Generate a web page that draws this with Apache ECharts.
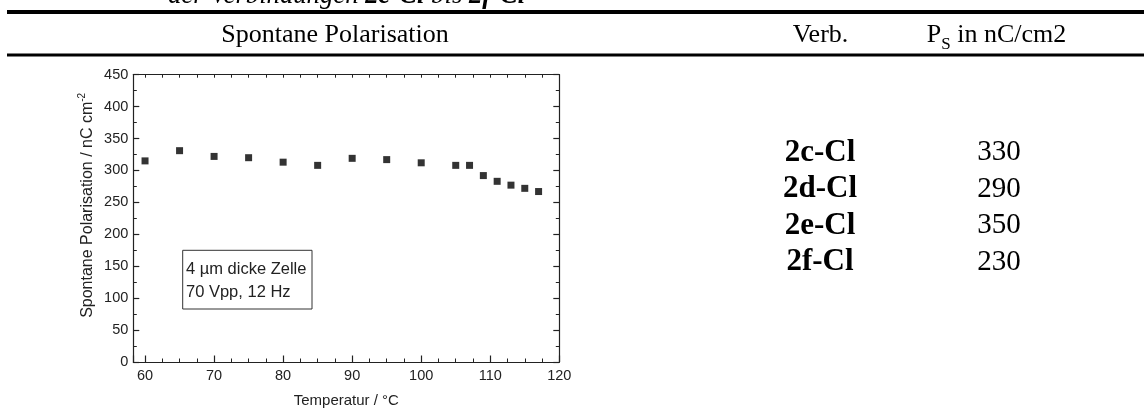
<!DOCTYPE html>
<html>
<head>
<meta charset="utf-8">
<script src="https://cdn.jsdelivr.net/npm/echarts@6/dist/echarts.min.js"></script>
<style>
  html, body { margin: 0; padding: 0; background: #fff; }
  #chart { width: 1144px; height: 416px; }
</style>
</head>
<body>
<div id="chart"></div>
<script>
// Temperature series (°C) and measured spontaneous polarisation (nC/cm²)
const temperatures = [60, 65, 70, 75, 80, 85, 90, 95, 100, 105, 107, 109, 111, 113, 115, 117];
const polarisation = [315, 331, 322, 320, 313, 308, 319, 317, 312, 308, 308, 292, 283, 277, 272, 267];

// Table on the right: compound and its P_S value
const compounds = ['2c-Cl', '2d-Cl', '2e-Cl', '2f-Cl'];
const psValues = [330, 290, 350, 230];

const SANS = "'Liberation Sans', Arial, Helvetica, sans-serif";
const SERIF = "'Liberation Serif', 'Times New Roman', serif";
const INK = '#222';

const chart = echarts.init(document.getElementById('chart'), null, { renderer: 'canvas' });

const frameAxis = {
  axisLine: { show: true, onZero: false, lineStyle: { color: INK, width: 1.2 } },
  splitLine: { show: false }
};

const rowY = [152.5, 189, 225.5, 262];

const tableGraphics = [];
compounds.forEach((name, i) => {
  tableGraphics.push({
    type: 'text', x: 820, y: rowY[i],
    style: { text: name, font: 'bold 31px ' + SERIF, fill: '#000', align: 'center', verticalAlign: 'middle' }
  });
  tableGraphics.push({
    type: 'text', x: 999, y: rowY[i],
    style: { text: String(psValues[i]), font: '29px ' + SERIF, fill: '#000', align: 'center', verticalAlign: 'middle' }
  });
});

chart.setOption({
  backgroundColor: '#fff',
  animation: false,
  grid: { left: 133.3, right: 584.7, top: 74.7, bottom: 54, containLabel: false },
  xAxis: [
    Object.assign({
      type: 'value', min: 58.3, max: 120, splitNumber: 5, position: 'bottom',
      name: 'Temperatur / °C', nameLocation: 'middle', nameGap: 31,
      nameTextStyle: { fontFamily: SANS, fontSize: 15, color: INK },
      axisTick: { show: true, inside: true, length: 6.5, lineStyle: { color: INK, width: 1.2 } },
      minorTick: { show: true, splitNumber: 4, length: 3.5, lineStyle: { color: INK, width: 1 } },
      axisLabel: { showMinLabel: false, fontFamily: SANS, fontSize: 14.5, color: INK, margin: 6 }
    }, frameAxis),
    Object.assign({
      type: 'value', min: 58.3, max: 120, splitNumber: 5, position: 'top',
      axisTick: { show: true, inside: true, length: 3, lineStyle: { color: INK, width: 1 } },
      minorTick: { show: true, splitNumber: 4, length: 3, lineStyle: { color: INK, width: 1 } },
      axisLabel: { show: false }
    }, frameAxis)
  ],
  yAxis: [
    Object.assign({
      type: 'value', min: 0, max: 450, interval: 50, position: 'left',
      name: '{m|Spontane Polarisation / nC cm}{s|-2}', nameLocation: 'middle', nameGap: 36,
      nameTextStyle: {
        padding: [0, 0, 0, 26],
        rich: {
          m: { fontFamily: SANS, fontSize: 16, color: INK, lineHeight: 20 },
          s: { fontFamily: SANS, fontSize: 10, color: INK, lineHeight: 12, verticalAlign: 'top' }
        }
      },
      axisTick: { show: true, inside: true, length: 6, lineStyle: { color: INK, width: 1.2 } },
      minorTick: { show: true, splitNumber: 2, length: 3.5, lineStyle: { color: INK, width: 1 } },
      axisLabel: { fontFamily: SANS, fontSize: 14.5, color: INK, margin: 5 }
    }, frameAxis),
    Object.assign({
      type: 'value', min: 0, max: 450, interval: 50, position: 'right',
      axisTick: { show: true, inside: true, length: 6, lineStyle: { color: INK, width: 1.2 } },
      minorTick: { show: true, splitNumber: 2, length: 3.5, lineStyle: { color: INK, width: 1 } },
      axisLabel: { show: false }
    }, frameAxis)
  ],
  series: [{
    type: 'scatter',
    xAxisIndex: 0, yAxisIndex: 0,
    symbol: 'rect', symbolSize: 7,
    itemStyle: { color: '#000' },
    data: temperatures.map((t, i) => [t, polarisation[i]])
  }],
  graphic: [
    // caption line running off the top of the page
    {
      type: 'text', x: 168, y: -4,
      style: {
        text: '{i|der Verbindungen }{b|2c-Cl}{i| bis }{b|2f-Cl}',
        verticalAlign: 'middle', align: 'left',
        rich: {
          i: { font: 'italic 26.7px ' + SERIF, fill: '#000' },
          b: { font: 'italic bold 26.7px ' + SERIF, fill: '#000' }
        }
      }
    },
    // table rules
    { type: 'line', shape: { x1: 7, y1: 12, x2: 1144, y2: 12 }, style: { stroke: '#000', lineWidth: 4 } },
    { type: 'line', shape: { x1: 7, y1: 55, x2: 1144, y2: 55 }, style: { stroke: '#000', lineWidth: 3 } },
    // table header
    {
      type: 'text', x: 335, y: 35.5,
      style: { text: 'Spontane Polarisation', font: '26px ' + SERIF, fill: '#000', align: 'center', verticalAlign: 'middle' }
    },
    {
      type: 'text', x: 820.5, y: 35.5,
      style: { text: 'Verb.', font: '26px ' + SERIF, fill: '#000', align: 'center', verticalAlign: 'middle' }
    },
    {
      type: 'text', x: 996.5, y: 35.5,
      style: {
        text: '{a|P}{s|S}{a| in nC/cm2}', align: 'center', verticalAlign: 'middle',
        rich: {
          a: { font: '26px ' + SERIF, fill: '#000', lineHeight: 36 },
          s: { font: '17px ' + SERIF, fill: '#000', lineHeight: 18, verticalAlign: 'bottom' }
        }
      }
    },
    // measurement conditions inside the plot
    {
      type: 'rect', shape: { x: 182.7, y: 250.3, width: 129.3, height: 58.7 },
      style: { fill: '#fff', stroke: '#333', lineWidth: 1 }, z: 10
    },
    {
      type: 'text', x: 186, y: 269, z: 11,
      style: { text: '4 µm dicke Zelle', font: '16.5px ' + SANS, fill: INK, align: 'left', verticalAlign: 'middle' }
    },
    {
      type: 'text', x: 186, y: 292.7, z: 11,
      style: { text: '70 Vpp, 12 Hz', font: '16.5px ' + SANS, fill: INK, align: 'left', verticalAlign: 'middle' }
    }
  ].concat(tableGraphics)
});
</script>
</body>
</html>
